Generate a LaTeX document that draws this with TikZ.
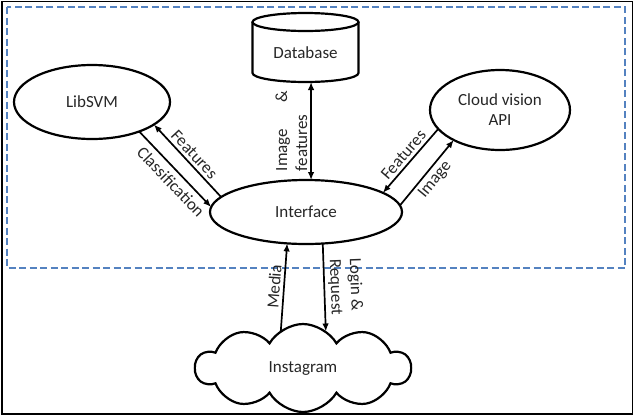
\documentclass[tikz,border=0pt]{standalone}
\usepackage{fontspec}
\setmainfont{Carlito}
\usetikzlibrary{shapes.geometric,shapes.symbols,arrows.meta}
\definecolor{dashblue}{RGB}{84,130,192}
\begin{document}
\begin{tikzpicture}[x=1pt,y=-1pt,
  every node/.style={font=\fontsize{17}{20}\selectfont, text=black!85},
  shapeline/.style={draw=black, line width=2.2pt},
  ell/.style={shapeline, ellipse, inner sep=0pt, outer sep=0pt},
  arr/.style={line width=1.7pt, -{Latex[length=8pt,width=6.5pt]}},
  dbl/.style={line width=1.7pt, {Latex[length=8pt,width=6.5pt]}-{Latex[length=8pt,width=6.5pt]}},
  lbl/.style={midway, sloped, inner sep=3pt}]
\useasboundingbox (0,0) rectangle (635,416);
% outer frame
\draw[line width=1.6pt] (2,1.5) rectangle (632.5,414);
% blue dashed region
\draw[dashblue, line width=2.3pt, dash pattern=on 7pt off 3.5pt] (7,7) rectangle (625,268);

% database cylinder
\node[minimum width=106pt, minimum height=69pt, inner sep=0pt, outer sep=0pt] (db) at (305.5,47.5) {};
\node at (305.5,53) (dbtext) {Database};
\draw[shapeline] (252.5,22) -- (252.5,73) arc[start angle=180, end angle=360, x radius=53pt, y radius=9pt] -- (358.5,22);
\draw[shapeline] (305.5,22) ellipse [x radius=53pt, y radius=9pt];

% ellipses
\node[ell, minimum width=156pt, minimum height=74pt] (lib) at (92,102) {LibSVM};
\node[ell, minimum width=140pt, minimum height=80pt, align=center] (cv) at (500,110) {Cloud vision\\API};
\node[ell, minimum width=192pt, minimum height=64pt] (intf) at (306,212) {Interface};
\node[cloud, shapeline, cloud puffs=10, cloud puff arc=120, aspect=2.5, minimum width=215pt, minimum height=88pt, inner sep=0pt, outer sep=0pt] (ig) at (303,368) {Instagram};

% connectors
\coordinate (dbbot) at (intf.81 |- db.south);
\draw[dbl] (intf.81) -- node[lbl, above, text width=80pt, align=left] {Image\hfill\&\\features} (dbbot);
\draw[arr] (lib.-32.5) -- node[lbl, below, pos=0.56, inner sep=5pt] {Classification} (intf.177);
\draw[arr] (intf.170) -- node[lbl, above] {Features} (lib.-20.2);
\draw[arr] (cv.197) -- node[lbl, above] {Features} (intf.14.6);
\draw[arr] (intf.4) -- node[lbl, below] {Image} (cv.213.4);
\draw[arr] (ig.121) -- node[lbl, above] {Media} (intf.-121);
\draw[arr] (intf.-62) -- node[lbl, above, align=left] {Login \&\\Request} (ig.58);
\end{tikzpicture}
\end{document}
